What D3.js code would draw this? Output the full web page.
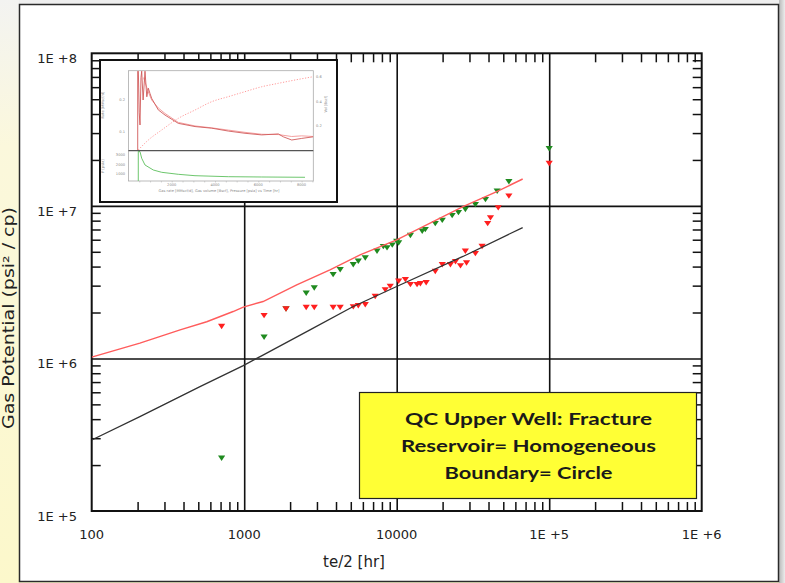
<!DOCTYPE html>
<html>
<head>
<meta charset="utf-8">
<script src="https://cdn.jsdelivr.net/npm/d3@7"></script>
<style>
html, body { margin: 0; padding: 0; background: #fff; }
svg { display: block; }
</style>
</head>
<body>
<div id="chart"></div>
<script>
// axis ticks
const xTicks = [100, 1000, 10000, 1e5, 1e6];
const xTickLabels = ["100", "1000", "10000", "1E +5", "1E +6"];
const yTicks = [1e5, 1e6, 1e7, 1e8];
const yTickLabels = ["1E +5", "1E +6", "1E +7", "1E +8"];

// model curves
const redLineT = [100, 207, 380, 568, 846, 986, 1330, 2210, 3650, 5750, 10000, 27200, 45300, 67000];
const redLineP = [1.02e6, 1.26e6, 1.54e6, 1.74e6, 2.03e6, 2.17e6, 2.36e6, 3.03e6, 3.80e6, 4.77e6, 5.99e6, 9.89e6, 1.24e7, 1.50e7];
const blackLineT = [100, 207, 513, 986, 1300, 2700, 5190, 10500, 27200, 67000];
const blackLineP = [2.92e5, 4.15e5, 6.53e5, 8.98e5, 1.04e6, 1.54e6, 2.19e6, 3.03e6, 4.66e6, 7.21e6];

// measured points
const redT = [711, 1350, 1880, 2550, 2880, 3830, 4260, 5190, 5600, 6220, 7230, 8410, 9070, 10300, 11400, 12300, 13600, 14300, 15600, 17900, 19900, 22500, 24300, 26200, 28700, 28200, 32800, 36300, 39500, 41200, 46300, 54400, 1e5];
const redP = [1.62e6, 1.91e6, 2.11e6, 2.16e6, 2.16e6, 2.16e6, 2.16e6, 2.18e6, 2.22e6, 2.25e6, 2.55e6, 2.82e6, 2.97e6, 3.21e6, 3.29e6, 3.05e6, 3.05e6, 3.09e6, 3.14e6, 3.72e6, 4.12e6, 4.12e6, 4.31e6, 4.05e6, 4.23e6, 5.05e6, 4.87e6, 5.43e6, 7.66e6, 8.35e6, 9.72e6, 1.16e7, 1.90e7];
const greenT = [711, 1350, 1880, 2550, 2880, 3830, 4260, 5190, 5600, 6220, 7430, 8170, 8640, 9350, 10000, 10300, 12300, 14700, 15400, 17900, 19900, 23100, 25400, 28200, 32800, 38200, 45600, 54400, 1e5];
const greenP = [2.22e5, 1.38e6, 2.11e6, 2.68e6, 2.90e6, 3.55e6, 3.82e6, 4.12e6, 4.34e6, 4.56e6, 5.05e6, 5.41e6, 5.31e6, 5.54e6, 5.86e6, 5.72e6, 6.40e6, 6.83e6, 7.00e6, 7.66e6, 8.05e6, 8.65e6, 9.05e6, 9.47e6, 1.02e7, 1.10e7, 1.25e7, 1.44e7, 2.37e7];

// inset (history plot)
const insetRateT = [430, 430, 460, 500, 536, 580, 614, 680, 767, 850, 919, 1000, 1076, 1381, 1690, 2305, 3076, 3848, 4614, 5386, 6157, 6924, 7155, 7543, 8005, 8540];
const insetRate = [0.04, 0.29, 0.29, 0.16, 0.122, 0.27, 0.29, 0.2, 0.29, 0.21, 0.237, 0.22, 0.205, 0.169, 0.153, 0.127, 0.117, 0.112, 0.103, 0.096, 0.091, 0.094, 0.085, 0.075, 0.080, 0.085];
const insetRate2T = [700, 919, 1076, 1381, 1690, 2305, 3076, 3848, 4614, 5386, 6157, 6924, 7543, 8005, 8540];
const insetRate2 = [0.27, 0.225, 0.2, 0.175, 0.158, 0.13, 0.119, 0.113, 0.106, 0.099, 0.093, 0.092, 0.086, 0.088, 0.086];
const insetVolT = [457, 919, 1538, 2305, 3076, 3848, 4614, 5386, 6157, 6924, 7696, 8540];
const insetVol = [0.006, 0.087, 0.169, 0.264, 0.332, 0.4, 0.441, 0.482, 0.522, 0.55, 0.577, 0.604];
const insetPresT = [457, 457, 536, 614, 767, 1150, 1538, 2305, 3076, 4614, 6157, 8157];
const insetPres = [320, 3380, 3330, 2650, 1959, 1443, 1206, 1000, 856, 753, 722, 691];
const insetTimeTicks = [2000, 4000, 6000, 8000];
const insetRateTicks = [0.1, 0.2];
const insetVolTicks = [0.2, 0.4, 0.6];
const insetPresTicks = [1000, 2000, 3000];

const legendLines = ["QC  Upper Well: Fracture", "Reservoir= Homogeneous", "Boundary= Circle"];

const w = 785, h = 583;
const plotL = 91.7, plotR = 701.7, plotT = 53.3, plotB = 511;

const svg = d3.select("#chart").append("svg")
  .attr("width", w)
  .attr("height", h);

const defs = svg.append("defs");
const bg = defs.append("linearGradient").attr("id", "bgGrad")
  .attr("x1", 0).attr("y1", 0).attr("x2", 0).attr("y2", 1);
bg.append("stop").attr("offset", 0).attr("stop-color", "#f3f3f1");
bg.append("stop").attr("offset", 0.25).attr("stop-color", "#fbf8dc");
bg.append("stop").attr("offset", 1).attr("stop-color", "#fcf8cb");
const shade = defs.append("linearGradient").attr("id", "shade")
  .attr("x1", 0).attr("y1", 0).attr("x2", 1).attr("y2", 0);
shade.append("stop").attr("offset", 0).attr("stop-color", "#b8b8b8");
shade.append("stop").attr("offset", 1).attr("stop-color", "#ececec");
defs.append("clipPath").attr("id", "plotClip")
  .append("rect").attr("x", plotL).attr("y", plotT)
  .attr("width", plotR - plotL).attr("height", plotB - plotT);

svg.append("rect").attr("width", w).attr("height", h).attr("fill", "url(#bgGrad)");
svg.append("rect").attr("x", 779).attr("y", 0).attr("width", 6).attr("height", h).attr("fill", "url(#shade)");
svg.append("rect").attr("x", 19).attr("y", 0).attr("width", 760).attr("height", 4).attr("fill", "#eeeeee");

// y title, squeezed into the strip left of the panel
svg.append("text")
  .attr("transform", "translate(14,318) rotate(-90)")
  .attr("text-anchor", "middle")
  .attr("font-family", "DejaVu Sans")
  .attr("font-size", 15)
  .attr("fill", "#222")
  .attr("textLength", 222)
  .attr("lengthAdjust", "spacingAndGlyphs")
  .text("Gas Potential (psi² / cp)");

// white panel
svg.append("rect")
  .attr("x", 19.5).attr("y", 4.5)
  .attr("width", 759).attr("height", 577)
  .attr("fill", "#fff")
  .attr("stroke", "#2a2a2a")
  .attr("stroke-width", 1.5);

const xScale = d3.scaleLog().domain([100, 1e6]).range([plotL, plotR]);
const yScale = d3.scaleLog().domain([1e5, 1e8]).range([plotB, plotT]);

const isDecade = (d) => Math.abs(Math.log10(d) - Math.round(Math.log10(d))) < 1e-9;
const xMinor = xScale.ticks().filter((d) => !isDecade(d));
const yMinor = yScale.ticks().filter((d) => !isDecade(d));

function styleAxis(g, width) {
  g.select(".domain").remove();
  g.selectAll(".tick line").attr("stroke", "#111").attr("stroke-width", width);
}

// grid lines at decades
svg.append("g")
  .attr("transform", "translate(0," + plotB + ")")
  .call(d3.axisBottom(xScale).tickValues([1000, 1e4, 1e5]).tickSize(-(plotB - plotT)).tickFormat(""))
  .call((g) => styleAxis(g, 1.6));
svg.append("g")
  .attr("transform", "translate(" + plotL + ",0)")
  .call(d3.axisLeft(yScale).tickValues([1e6, 1e7]).tickSize(-(plotR - plotL)).tickFormat(""))
  .call((g) => styleAxis(g, 1.6));

// minor ticks on all four sides, pointing in
svg.append("g").attr("transform", "translate(0," + plotB + ")")
  .call(d3.axisBottom(xScale).tickValues(xMinor).tickSize(-9).tickFormat(""))
  .call((g) => styleAxis(g, 1.5));
svg.append("g").attr("transform", "translate(0," + plotT + ")")
  .call(d3.axisTop(xScale).tickValues(xMinor).tickSize(-9).tickFormat(""))
  .call((g) => styleAxis(g, 1.5));
svg.append("g").attr("transform", "translate(" + plotL + ",0)")
  .call(d3.axisLeft(yScale).tickValues(yMinor).tickSize(-9).tickFormat(""))
  .call((g) => styleAxis(g, 1.5));
svg.append("g").attr("transform", "translate(" + plotR + ",0)")
  .call(d3.axisRight(yScale).tickValues(yMinor).tickSize(-9).tickFormat(""))
  .call((g) => styleAxis(g, 1.5));

svg.append("rect")
  .attr("x", plotL).attr("y", plotT)
  .attr("width", plotR - plotL).attr("height", plotB - plotT)
  .attr("fill", "none").attr("stroke", "#111").attr("stroke-width", 2);

// tick labels
svg.selectAll(".xlab").data(xTicks).enter().append("text")
  .attr("x", (d) => xScale(d)).attr("y", 539)
  .attr("text-anchor", "middle")
  .attr("font-family", "DejaVu Sans").attr("font-size", 13).attr("fill", "#222")
  .text((d, i) => xTickLabels[i]);
svg.selectAll(".ylab").data(yTicks).enter().append("text")
  .attr("x", 77).attr("y", (d) => yScale(d) + 10)
  .attr("text-anchor", "end")
  .attr("font-family", "DejaVu Sans").attr("font-size", 13).attr("fill", "#222")
  .text((d, i) => yTickLabels[i]);
svg.append("text")
  .attr("x", 354).attr("y", 567)
  .attr("text-anchor", "middle")
  .attr("font-family", "DejaVu Sans").attr("font-size", 15).attr("fill", "#222")
  .text("te/2 [hr]");

// ---- inset history plot ----
const inset = svg.append("g");
inset.append("rect")
  .attr("x", 100).attr("y", 60).attr("width", 237).attr("height", 142)
  .attr("fill", "#fff").attr("stroke", "#111").attr("stroke-width", 2);

const ix = d3.scaleLinear().domain([0, 8540]).range([128.4, 313.3]);
const iyRate = d3.scaleLinear().domain([0.0416, 0.2916]).range([150.7, 70.7]);
const iyVol = d3.scaleLinear().domain([0, 0.653]).range([150.7, 70.7]);
const iyPres = d3.scaleLinear().domain([309, 3433]).range([181, 150.7]);

defs.append("clipPath").attr("id", "insetTop")
  .append("rect").attr("x", 128.4).attr("y", 70.7).attr("width", 184.9).attr("height", 80);
defs.append("clipPath").attr("id", "insetBot")
  .append("rect").attr("x", 128.4).attr("y", 150.7).attr("width", 184.9).attr("height", 30.3);

inset.append("rect")
  .attr("x", 128.4).attr("y", 70.7).attr("width", 184.9).attr("height", 110.3)
  .attr("fill", "none").attr("stroke", "#aaa").attr("stroke-width", 0.8);

const tinyFont = (sel) => sel.attr("font-family", "DejaVu Sans").attr("font-size", 3.6).attr("fill", "#888");

inset.append("g").attr("transform", "translate(0,181)")
  .call(d3.axisBottom(ix).tickValues(d3.range(500, 8540, 500)).tickSize(1.5).tickFormat(""))
  .call((g) => { g.select(".domain").remove(); g.selectAll("line").attr("stroke", "#aaa").attr("stroke-width", 0.5); });
inset.selectAll(".itx").data(insetTimeTicks).enter().append("text")
  .attr("x", (d) => ix(d)).attr("y", 186).attr("text-anchor", "middle")
  .call(tinyFont).text((d) => d);
inset.selectAll(".iyr").data(insetRateTicks).enter().append("text")
  .attr("x", 125).attr("y", (d) => iyRate(d) + 1).attr("text-anchor", "end")
  .call(tinyFont).text((d) => d.toFixed(1));
inset.selectAll(".iyv").data(insetVolTicks).enter().append("text")
  .attr("x", 316).attr("y", (d) => iyVol(d) + 1)
  .call(tinyFont).text((d) => d.toFixed(1));
inset.selectAll(".iyp").data(insetPresTicks).enter().append("text")
  .attr("x", 125).attr("y", (d) => iyPres(d) + 1).attr("text-anchor", "end")
  .call(tinyFont).text((d) => d);
inset.append("text").attr("transform", "translate(104,105) rotate(-90)").attr("text-anchor", "middle")
  .call(tinyFont).text("Rate [MMscf/d]");
inset.append("text").attr("transform", "translate(104,166) rotate(-90)").attr("text-anchor", "middle")
  .call(tinyFont).text("P [psia]");
inset.append("text").attr("transform", "translate(327,104) rotate(-90)").attr("text-anchor", "middle")
  .call(tinyFont).text("Vol [Bscf]");
inset.append("text").attr("x", 219).attr("y", 192).attr("text-anchor", "middle")
  .call(tinyFont).text("Gas rate [MMscf/d], Gas volume [Bscf], Pressure [psia] vs Time [hr]");

const topG = inset.append("g").attr("clip-path", "url(#insetTop)");
topG.append("path")
  .datum(d3.zip(insetVolT, insetVol))
  .attr("fill", "none").attr("stroke", "#ff9a9a").attr("stroke-width", 1)
  .attr("stroke-dasharray", "1.2,1.6")
  .attr("d", d3.line().x((d) => ix(d[0])).y((d) => iyVol(d[1])).curve(d3.curveMonotoneX));
topG.append("path")
  .datum(d3.zip(insetRate2T, insetRate2))
  .attr("fill", "none").attr("stroke", "#f4a0a0").attr("stroke-width", 1)
  .attr("d", d3.line().x((d) => ix(d[0])).y((d) => iyRate(d[1])));
topG.append("path")
  .datum(d3.zip(insetRateT, insetRate))
  .attr("fill", "none").attr("stroke", "#d05a5a").attr("stroke-width", 0.9)
  .attr("d", d3.line().x((d) => ix(d[0])).y((d) => iyRate(d[1])));

const botG = inset.append("g").attr("clip-path", "url(#insetBot)");
botG.append("path")
  .datum(d3.zip(insetPresT, insetPres))
  .attr("fill", "none").attr("stroke", "#5cc05c").attr("stroke-width", 0.9)
  .attr("d", d3.line().x((d) => ix(d[0])).y((d) => iyPres(d[1])));

inset.append("line")
  .attr("x1", 128.4).attr("x2", 313.3).attr("y1", 150.7).attr("y2", 150.7)
  .attr("stroke", "#555").attr("stroke-width", 1.2);

// ---- data ----
const plot = svg.append("g").attr("clip-path", "url(#plotClip)");
const tri = "M-3.6,-2.6L3.6,-2.6L0,2.8Z";

plot.selectAll(".green").data(d3.zip(greenT, greenP)).enter().append("path")
  .attr("d", tri)
  .attr("transform", (d) => "translate(" + xScale(d[0]) + "," + yScale(d[1]) + ")")
  .attr("fill", "#1f8a1f");
plot.selectAll(".red").data(d3.zip(redT, redP)).enter().append("path")
  .attr("d", tri)
  .attr("transform", (d) => "translate(" + xScale(d[0]) + "," + yScale(d[1]) + ")")
  .attr("fill", "#ff1f1f");

const line = d3.line().x((d) => xScale(d[0])).y((d) => yScale(d[1]));
plot.append("path")
  .datum(d3.zip(blackLineT, blackLineP))
  .attr("fill", "none").attr("stroke", "#333").attr("stroke-width", 1.3)
  .attr("d", line);
plot.append("path")
  .datum(d3.zip(redLineT, redLineP))
  .attr("fill", "none").attr("stroke", "#ff5c5c").attr("stroke-width", 1.4)
  .attr("d", line);

// ---- legend box ----
svg.append("rect")
  .attr("x", 359.5).attr("y", 392.5).attr("width", 337).attr("height", 106)
  .attr("fill", "#ffff35").attr("stroke", "#222").attr("stroke-width", 1.2);
const legendY = [425, 452, 479];
const legendW = [247, 255, 168];
svg.selectAll(".leg").data(legendLines).enter().append("text")
  .attr("x", 528.5).attr("y", (d, i) => legendY[i])
  .attr("text-anchor", "middle")
  .attr("font-family", "Lato").attr("font-weight", "bold").attr("font-size", 17)
  .attr("fill", "#1a1a1a")
  .attr("textLength", (d, i) => legendW[i])
  .attr("lengthAdjust", "spacingAndGlyphs")
  .text((d) => d);
</script>
</body>
</html>
